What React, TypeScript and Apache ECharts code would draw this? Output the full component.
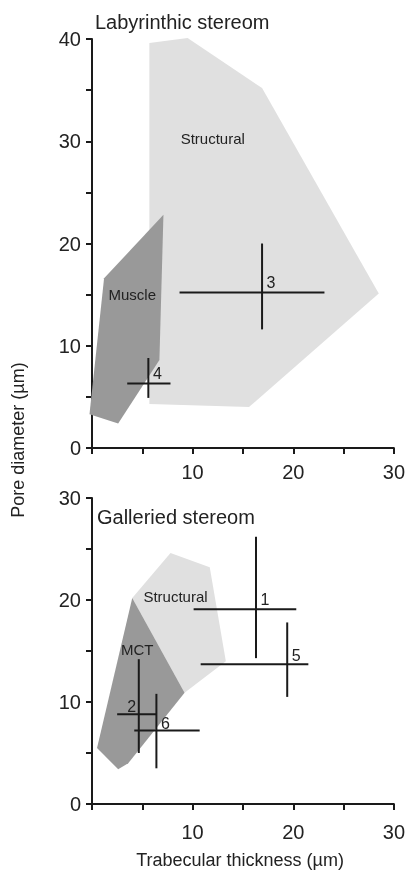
import React, { useEffect, useRef } from "react";
import * as echarts from "echarts";

const FONT = "Liberation Sans, Arial, sans-serif";
const yTicksTop = [0, 10, 20, 30, 40];
const yTicksBottom = [0, 10, 20, 30];
const xTicks = [10, 20, 30];

// Labyrinthic stereom
const labStructural = [[5.7, 39.6], [9.5, 40.1], [16.9, 35.2], [28.5, 15.1], [15.6, 4.0], [5.7, 4.3]];
const labMuscle = [[7.1, 22.8], [1.2, 16.6], [-0.25, 3.3], [2.6, 2.4], [6.7, 8.6]];
// [label, x, y, xlo, xhi, ylo, yhi, labelDx, labelDy]
const labCrosses = [
  ["3", 16.9, 15.2, 8.7, 23.1, 11.6, 20.0, 9, -10],
  ["4", 5.6, 6.3, 3.5, 7.8, 4.9, 8.8, 9, -10],
];
const labAreaLabels = [["Structural", 12, 30.3], ["Muscle", 4.0, 15.0]];

// Galleried stereom
const galStructural = [[4.0, 20.2], [7.8, 24.6], [11.7, 23.2], [13.3, 14.0], [9.2, 10.9]];
const galMCT = [[4.0, 20.2], [9.2, 10.9], [3.6, 4.0], [2.6, 3.4], [0.5, 5.5]];
const galCrosses = [
  ["1", 16.3, 19.1, 10.1, 20.3, 14.3, 26.2, 9, -10],
  ["5", 19.4, 13.7, 10.8, 21.5, 10.5, 17.8, 9, -9],
  ["2", 4.65, 8.8, 2.5, 6.4, 5.0, 14.2, -7, -8],
  ["6", 6.4, 7.2, 4.2, 10.7, 3.5, 10.8, 9, -7],
];
const galAreaLabels = [["Structural", 8.3, 20.3], ["MCT", 4.5, 15.1]];

function polySeries(idx: number, pts: number[][], color: string) {
  return {
    type: "custom", xAxisIndex: idx, yAxisIndex: idx, silent: true,
    data: [0],
    renderItem: (_p: any, api: any) => ({
      type: "polygon",
      shape: { points: pts.map((p) => api.coord(p)) },
      style: { fill: color },
    }),
  };
}

function crossSeries(idx: number, crosses: any[]) {
  return {
    type: "custom", xAxisIndex: idx, yAxisIndex: idx, silent: true, z: 5,
    data: crosses.map((c) => c.slice(1)),
    renderItem: (p: any, api: any) => {
      const c = crosses[p.dataIndex];
      const ctr = api.coord([c[1], c[2]]);
      const l = api.coord([c[3], c[2]]);
      const r = api.coord([c[4], c[2]]);
      const b = api.coord([c[1], c[5]]);
      const t = api.coord([c[1], c[6]]);
      const st = { stroke: "#1a1a1a", lineWidth: 2 };
      return {
        type: "group",
        children: [
          { type: "line", shape: { x1: l[0], y1: l[1], x2: r[0], y2: r[1] }, style: st },
          { type: "line", shape: { x1: b[0], y1: b[1], x2: t[0], y2: t[1] }, style: st },
          { type: "text", x: ctr[0] + c[7], y: ctr[1] + c[8], style: { text: c[0], font: `16px ${FONT}`, fill: "#222", align: "center", verticalAlign: "middle" } },
        ],
      };
    },
  };
}

function textSeries(idx: number, labels: any[]) {
  return {
    type: "custom", xAxisIndex: idx, yAxisIndex: idx, silent: true, z: 6,
    data: labels.map((l) => [l[1], l[2]]),
    renderItem: (p: any, api: any) => {
      const l = labels[p.dataIndex];
      const pt = api.coord([l[1], l[2]]);
      return { type: "text", x: pt[0], y: pt[1], style: { text: l[0], font: `15px ${FONT}`, fill: "#222", align: "center", verticalAlign: "middle" } };
    },
  };
}

const axisCommon = {
  axisLine: { show: true, lineStyle: { color: "#1a1a1a", width: 2 } },
  axisTick: { show: true, length: 6, inside: false, lineStyle: { color: "#1a1a1a", width: 2 } },
  splitLine: { show: false },
};

function xAxis(idx: number, offset: number) {
  return {
    ...axisCommon, type: "value", gridIndex: idx, min: 0, max: 30, interval: 5, offset,
    axisLabel: { fontSize: 20, fontFamily: FONT, color: "#222", margin: 10,
      formatter: (v: number) => (xTicks.includes(v) ? String(v) : "") },
  };
}
function yAxis(idx: number, max: number, ticks: number[]) {
  return {
    ...axisCommon, type: "value", gridIndex: idx, min: 0, max, interval: 5, offset: 5,
    axisLabel: { fontSize: 20, fontFamily: FONT, color: "#222", margin: 6,
      formatter: (v: number) => (ticks.includes(v) ? String(v) : "") },
  };
}

export default function App() {
  const ref = useRef<HTMLDivElement>(null);
  useEffect(() => {
    const chart = echarts.init(ref.current!, null, { renderer: "svg" });
    chart.setOption({
      animation: false,
      grid: [
        { left: 92, right: 14, top: 39, bottom: 427 },
        { left: 92, right: 14, top: 498, bottom: 71 },
      ],
      xAxis: [xAxis(0, 4), xAxis(1, 8)],
      yAxis: [yAxis(0, 40, yTicksTop), yAxis(1, 30, yTicksBottom)],
      graphic: [
        { type: "text", left: 95, top: 12, style: { text: "Labyrinthic stereom", font: `20px ${FONT}`, fill: "#222" } },
        { type: "text", left: 97, top: 507, style: { text: "Galleried stereom", font: `20px ${FONT}`, fill: "#222" } },
        { type: "text", x: 18, y: 440, rotation: Math.PI / 2, style: { text: "Pore diameter (µm)", font: `18px ${FONT}`, fill: "#222", align: "center", verticalAlign: "middle" } },
        { type: "text", x: 240, y: 860, style: { text: "Trabecular thickness (µm)", font: `18px ${FONT}`, fill: "#222", align: "center", verticalAlign: "middle" } },
      ],
      series: [
        polySeries(0, labStructural, "#e0e0e0"),
        polySeries(0, labMuscle, "#999999"),
        crossSeries(0, labCrosses),
        textSeries(0, labAreaLabels),
        polySeries(1, galStructural, "#e0e0e0"),
        polySeries(1, galMCT, "#999999"),
        crossSeries(1, galCrosses),
        textSeries(1, galAreaLabels),
      ],
    });
    return () => chart.dispose();
  }, []);
  return <div ref={ref} style={{ position: "fixed", left: 0, top: 0, width: 408, height: 875 }} />;
}
